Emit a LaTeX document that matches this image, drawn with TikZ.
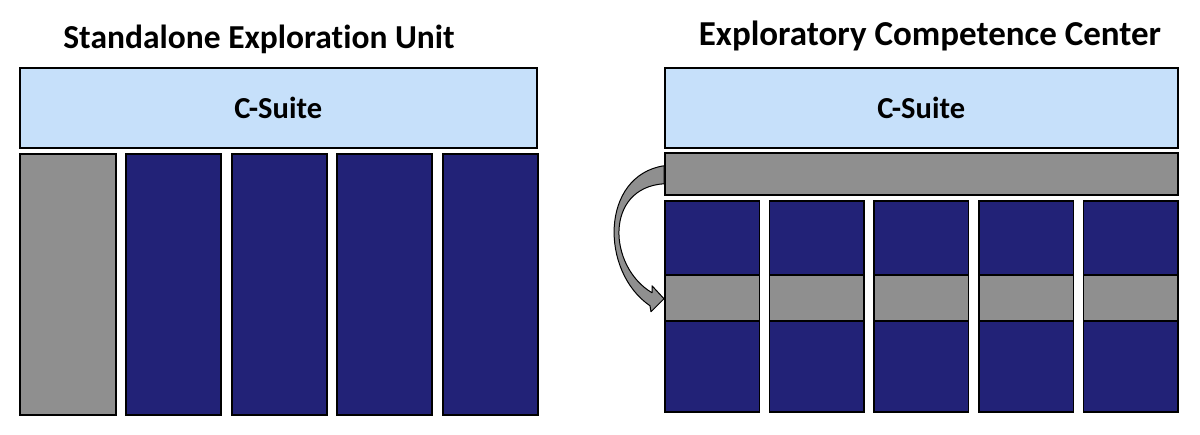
\documentclass[tikz,border=0pt]{standalone}
\usepackage{fontspec}
\setmainfont{Carlito}[Ligatures=NoCommon]
\usetikzlibrary{calc}
\definecolor{suiteblue}{HTML}{C6E0FA}
\definecolor{unitnavy}{HTML}{222277}
\definecolor{explgray}{HTML}{8F8F8F}

\begin{document}
\begin{tikzpicture}[
    x=1pt, y=-1pt,
    title/.style={anchor=base, font=\bfseries},
    suite/.style={rectangle, draw, line width=1.5pt, fill=suiteblue, minimum height=80pt, inner sep=0pt, anchor=north west, font=\fontsize{30.5}{36}\selectfont\bfseries},
    unit/.style={rectangle, draw, line width=1.5pt, fill=unitnavy, inner sep=0pt, anchor=north west},
    explore/.style={rectangle, draw, line width=1.5pt, fill=explgray, inner sep=0pt, anchor=north west}
  ]
  \useasboundingbox (0,0) rectangle (1200,434);

  % Left: standalone unit
  \node[title, font=\fontsize{33.5}{40}\selectfont\bfseries] (lefttitle) at (259,48) {Standalone Exploration Unit};
  \node[suite, minimum width=517pt] (leftsuite) at (19,67) {C-Suite};
  \node[explore, minimum width=96pt, minimum height=261pt] (lonely) at (19,153) {};
  \foreach \x [count=\i] in {125,231,336,442} {
    \node[unit, minimum width=95pt, minimum height=261pt] (bu\i) at (\x,153) {};
  }

  % Right: competence center
  \node[title, font=\fontsize{35}{42}\selectfont\bfseries] (righttitle) at (930,45) {Exploratory Competence Center};
  \node[suite, minimum width=513pt] (rightsuite) at (664,67) {C-Suite};
  \node[explore, minimum width=513pt, minimum height=42pt] (bar) at (664,152) {};
  \foreach \x [count=\i] in {664,768.5,873,978,1082.5} {
    \node[unit, minimum width=94.5pt, minimum height=74pt] (top\i) at (\x,200) {};
    \node[explore, minimum width=94.5pt, minimum height=46pt] (band\i) at (\x,274) {};
    \node[unit, minimum width=94.5pt, minimum height=91pt] (bot\i) at (\x,320) {};
  }

  % Curved arrow from bar down to first band
  \filldraw[fill=explgray, draw=black, line width=1pt, line join=round]
    ($(bar.west)+(0,-8)$) .. controls +(-64,10) and +(-50,-34) .. ($(band1.west)+(-14,8)$)
    -- ($(band1.west)+(-13,14)$) -- ($(band1.west)+(0,1)$) -- ($(band1.west)+(-12,-12)$) -- ($(band1.west)+(-12,-5)$)
    .. controls +(-44,-26) and +(-60,4) .. ($(bar.west)+(0,10)$) -- cycle;
\end{tikzpicture}
\end{document}
